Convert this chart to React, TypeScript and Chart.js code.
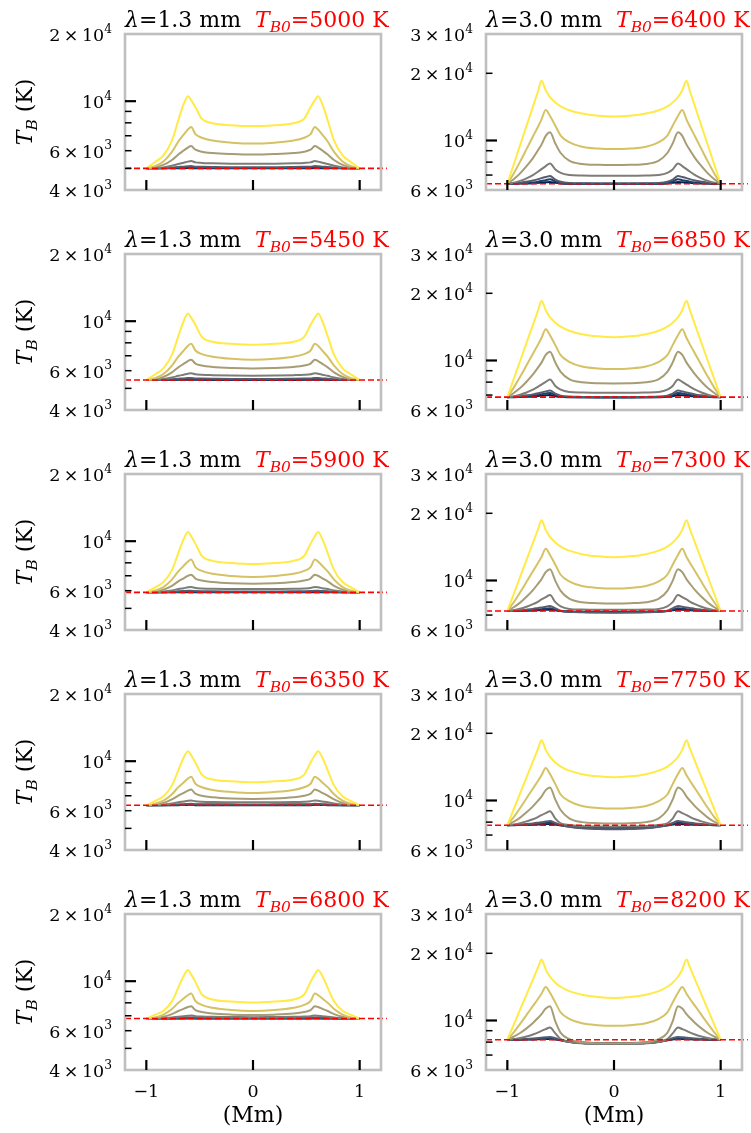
import React, { useEffect, useRef } from "react";
import { Chart, registerables } from "chart.js";

Chart.register(...registerables);

// ---------- data ----------
const xMm13 = [-1, -0.92, -0.84, -0.76, -0.7, -0.65, -0.61, -0.58, -0.54, -0.48, -0.38, -0.2, 0, 0.2, 0.38, 0.48, 0.54, 0.58, 0.61, 0.65, 0.7, 0.76, 0.84, 0.92, 1];
const xMm30 = [-1, -0.94, -0.88, -0.82, -0.76, -0.71, -0.68, -0.64, -0.6, -0.55, -0.5, -0.42, -0.3, -0.15, 0, 0.15, 0.3, 0.42, 0.5, 0.55, 0.6, 0.64, 0.68, 0.71, 0.76, 0.82, 0.88, 0.94, 1];

const tbBase13 = [5000, 5450, 5900, 6350, 6800];
const tbBase30 = [6400, 6850, 7300, 7750, 8200];

const curveColors = ["#ffea46", "#d4c264", "#a69d75", "#7d7c76", "#575c6d", "#1d3e6d", "#00204d"];

const yTicks13 = [4000, 5000, 6000, 7000, 8000, 9000, 10000, 20000];
const yTicks30 = [6000, 7000, 8000, 9000, 10000, 20000, 30000];
const yLabelVals13 = [4000, 6000, 10000, 20000];
const yLabelMant13 = [4, 6, 1, 2];
const yLabelExp13 = [3, 3, 4, 4];
const yLabelVals30 = [6000, 10000, 20000, 30000];
const yLabelMant30 = [6, 1, 2, 3];
const yLabelExp30 = [3, 4, 4, 4];
const xTickVals = [-1, 0, 1];
const xTickText = ["\u22121", "0", "1"];

// lambda = 1.3 mm panels (yellow, tan, olive, gray, slate, blue, navy)
const tb13_5000 = [
  [5000, 5330, 5720, 6660, 8210, 9700, 10530, 10110, 9410, 8350, 7960, 7810, 7740, 7810, 7960, 8350, 9410, 10110, 10530, 9700, 8210, 6660, 5720, 5330, 5000],
  [5000, 5110, 5370, 5930, 6600, 7080, 7470, 7660, 7120, 6860, 6660, 6520, 6460, 6520, 6660, 6860, 7120, 7660, 7470, 7080, 6600, 5930, 5370, 5110, 5000],
  [5000, 5050, 5180, 5450, 5770, 6010, 6200, 6290, 6060, 5940, 5860, 5800, 5770, 5800, 5860, 5940, 6060, 6290, 6200, 6010, 5770, 5450, 5180, 5050, 5000],
  [5000, 5020, 5050, 5140, 5230, 5300, 5360, 5390, 5320, 5290, 5270, 5250, 5240, 5250, 5270, 5290, 5320, 5390, 5360, 5300, 5230, 5140, 5050, 5020, 5000],
  [5000, 5005, 5020, 5040, 5070, 5090, 5110, 5120, 5090, 5080, 5070, 5060, 5060, 5060, 5070, 5080, 5090, 5120, 5110, 5090, 5070, 5040, 5020, 5005, 5000],
  [5000, 5000, 5010, 5020, 5030, 5040, 5045, 5050, 5035, 5030, 5025, 5020, 5020, 5020, 5025, 5030, 5035, 5050, 5045, 5040, 5030, 5020, 5010, 5000, 5000],
  [5000, 5000, 5000, 5005, 5010, 5010, 5015, 5015, 5010, 5010, 5005, 5005, 5005, 5005, 5005, 5010, 5010, 5015, 5015, 5010, 5010, 5005, 5000, 5000, 5000],
];
const tb13_5450 = [
  [5450, 5770, 6150, 7060, 8570, 10020, 10830, 10380, 9640, 8510, 8090, 7920, 7850, 7920, 8090, 8510, 9640, 10380, 10830, 10020, 8570, 7060, 6150, 5770, 5450],
  [5450, 5550, 5800, 6320, 6940, 7380, 7760, 7930, 7390, 7120, 6930, 6780, 6720, 6780, 6930, 7120, 7390, 7930, 7760, 7380, 6940, 6320, 5800, 5550, 5450],
  [5450, 5500, 5630, 5900, 6210, 6440, 6630, 6720, 6460, 6330, 6240, 6170, 6140, 6170, 6240, 6330, 6460, 6720, 6630, 6440, 6210, 5900, 5630, 5500, 5450],
  [5450, 5470, 5510, 5590, 5690, 5760, 5820, 5850, 5780, 5750, 5730, 5710, 5700, 5710, 5730, 5750, 5780, 5850, 5820, 5760, 5690, 5590, 5510, 5470, 5450],
  [5450, 5455, 5470, 5490, 5520, 5540, 5560, 5570, 5540, 5530, 5520, 5510, 5510, 5510, 5520, 5530, 5540, 5570, 5560, 5540, 5520, 5490, 5470, 5455, 5450],
  [5450, 5450, 5460, 5470, 5480, 5490, 5495, 5500, 5485, 5480, 5475, 5470, 5470, 5470, 5475, 5480, 5485, 5500, 5495, 5490, 5480, 5470, 5460, 5450, 5450],
  [5450, 5450, 5450, 5455, 5460, 5460, 5465, 5465, 5460, 5460, 5455, 5455, 5455, 5455, 5455, 5460, 5460, 5465, 5465, 5460, 5460, 5455, 5450, 5450, 5450],
];
const tb13_5900 = [
  [5900, 6200, 6560, 7420, 8850, 10220, 10980, 10520, 9750, 8590, 8160, 7990, 7910, 7990, 8160, 8590, 9750, 10520, 10980, 10220, 8850, 7420, 6560, 6200, 5900],
  [5900, 6000, 6230, 6730, 7320, 7750, 8100, 8270, 7660, 7360, 7140, 6980, 6910, 6980, 7140, 7360, 7660, 8270, 8100, 7750, 7320, 6730, 6230, 6000, 5900],
  [5900, 5950, 6070, 6310, 6610, 6820, 7000, 7080, 6800, 6660, 6560, 6480, 6450, 6480, 6560, 6660, 6800, 7080, 7000, 6820, 6610, 6310, 6070, 5950, 5900],
  [5900, 5910, 5950, 6020, 6100, 6160, 6210, 6230, 6170, 6140, 6120, 6110, 6100, 6110, 6120, 6140, 6170, 6230, 6210, 6160, 6100, 6020, 5950, 5910, 5900],
  [5900, 5905, 5915, 5935, 5960, 5980, 5995, 6000, 5980, 5970, 5960, 5955, 5950, 5955, 5960, 5970, 5980, 6000, 5995, 5980, 5960, 5935, 5915, 5905, 5900],
  [5900, 5900, 5905, 5915, 5925, 5930, 5935, 5940, 5930, 5925, 5920, 5915, 5915, 5915, 5920, 5925, 5930, 5940, 5935, 5930, 5925, 5915, 5905, 5900, 5900],
  [5900, 5900, 5900, 5905, 5905, 5910, 5910, 5910, 5905, 5905, 5905, 5905, 5905, 5905, 5905, 5905, 5905, 5910, 5910, 5910, 5905, 5905, 5900, 5900, 5900],
];
const tb13_6350 = [
  [6350, 6630, 6970, 7770, 9100, 10380, 11090, 10630, 9870, 8710, 8280, 8120, 8040, 8120, 8280, 8710, 9870, 10630, 11090, 10380, 9100, 7770, 6970, 6630, 6350],
  [6350, 6440, 6650, 7110, 7650, 8030, 8360, 8510, 7920, 7640, 7430, 7280, 7210, 7280, 7430, 7640, 7920, 8510, 8360, 8030, 7650, 7110, 6650, 6440, 6350],
  [6350, 6390, 6500, 6740, 7010, 7210, 7380, 7460, 7150, 7000, 6890, 6800, 6770, 6800, 6890, 7000, 7150, 7460, 7380, 7210, 7010, 6740, 6500, 6390, 6350],
  [6350, 6360, 6400, 6460, 6540, 6600, 6650, 6670, 6610, 6580, 6560, 6550, 6540, 6550, 6560, 6580, 6610, 6670, 6650, 6600, 6540, 6460, 6400, 6360, 6350],
  [6350, 6355, 6365, 6380, 6400, 6420, 6435, 6440, 6420, 6415, 6410, 6405, 6400, 6405, 6410, 6415, 6420, 6440, 6435, 6420, 6400, 6380, 6365, 6355, 6350],
  [6350, 6350, 6355, 6365, 6375, 6380, 6385, 6390, 6380, 6375, 6375, 6370, 6370, 6370, 6375, 6375, 6380, 6390, 6385, 6380, 6375, 6365, 6355, 6350, 6350],
  [6350, 6350, 6350, 6355, 6355, 6360, 6360, 6360, 6355, 6355, 6355, 6355, 6355, 6355, 6355, 6355, 6355, 6360, 6360, 6360, 6355, 6355, 6350, 6350, 6350],
];
const tb13_6800 = [
  [6800, 7060, 7370, 8120, 9360, 10550, 11210, 10730, 9930, 8720, 8280, 8100, 8020, 8100, 8280, 8720, 9930, 10730, 11210, 10550, 9360, 8120, 7370, 7060, 6800],
  [6800, 6880, 7080, 7500, 8000, 8360, 8660, 8800, 8150, 7830, 7600, 7420, 7350, 7420, 7600, 7830, 8150, 8800, 8660, 8360, 8000, 7500, 7080, 6880, 6800],
  [6800, 6840, 6930, 7120, 7350, 7520, 7660, 7720, 7420, 7270, 7160, 7080, 7050, 7080, 7160, 7270, 7420, 7720, 7660, 7520, 7350, 7120, 6930, 6840, 6800],
  [6800, 6810, 6830, 6880, 6930, 6970, 7000, 7020, 6970, 6940, 6920, 6910, 6900, 6910, 6920, 6940, 6970, 7020, 7000, 6970, 6930, 6880, 6830, 6810, 6800],
  [6800, 6805, 6810, 6830, 6850, 6865, 6875, 6880, 6860, 6855, 6845, 6840, 6840, 6840, 6845, 6855, 6860, 6880, 6875, 6865, 6850, 6830, 6810, 6805, 6800],
  [6800, 6800, 6805, 6815, 6825, 6830, 6835, 6840, 6830, 6825, 6825, 6820, 6820, 6820, 6825, 6825, 6830, 6840, 6835, 6830, 6825, 6815, 6805, 6800, 6800],
  [6800, 6800, 6800, 6805, 6805, 6810, 6810, 6810, 6805, 6805, 6805, 6805, 6805, 6805, 6805, 6805, 6805, 6810, 6810, 6810, 6805, 6805, 6800, 6800, 6800],
];

// lambda = 3.0 mm panels
const tb30_6400 = [
  [6400, 7810, 9530, 11630, 14190, 16740, 18500, 16790, 15650, 14800, 14230, 13660, 13200, 12910, 12800, 12910, 13200, 13660, 14230, 14800, 15650, 16790, 18500, 16740, 14190, 11630, 9530, 7810, 6400],
  [6400, 7120, 8040, 9150, 10420, 11590, 12410, 13700, 12880, 11650, 10520, 9830, 9380, 9200, 9150, 9200, 9380, 9830, 10520, 11650, 12880, 13700, 12410, 11590, 10420, 9150, 8040, 7120, 6400],
  [6400, 6710, 7120, 7670, 8340, 9080, 9580, 10480, 10880, 9690, 8790, 8130, 7850, 7780, 7760, 7780, 7850, 8130, 8790, 9690, 10880, 10480, 9580, 9080, 8340, 7670, 7120, 6710, 6400],
  [6400, 6470, 6590, 6770, 7000, 7260, 7440, 7680, 7890, 7420, 7160, 7010, 6970, 6950, 6950, 6950, 6970, 7010, 7160, 7420, 7890, 7680, 7440, 7260, 7000, 6770, 6590, 6470, 6400],
  [6400, 6430, 6470, 6540, 6620, 6710, 6780, 6860, 6930, 6680, 6530, 6450, 6430, 6420, 6420, 6420, 6430, 6450, 6530, 6680, 6930, 6860, 6780, 6710, 6620, 6540, 6470, 6430, 6400],
  [6400, 6410, 6425, 6450, 6490, 6540, 6580, 6640, 6700, 6550, 6470, 6420, 6405, 6400, 6400, 6400, 6405, 6420, 6470, 6550, 6700, 6640, 6580, 6540, 6490, 6450, 6425, 6410, 6400],
  [6400, 6400, 6410, 6420, 6435, 6460, 6475, 6500, 6520, 6460, 6420, 6400, 6395, 6395, 6395, 6395, 6395, 6400, 6420, 6460, 6520, 6500, 6475, 6460, 6435, 6420, 6410, 6400, 6400],
];
const tb30_6850 = [
  [6850, 8260, 9950, 12000, 14450, 16890, 18540, 16790, 15630, 14750, 14170, 13590, 13120, 12830, 12710, 12830, 13120, 13590, 14170, 14750, 15630, 16790, 18540, 16890, 14450, 12000, 9950, 8260, 6850],
  [6850, 7560, 8450, 9520, 10730, 11840, 12610, 13810, 12970, 11720, 10560, 9860, 9390, 9210, 9160, 9210, 9390, 9860, 10560, 11720, 12970, 13810, 12610, 11840, 10730, 9520, 8450, 7560, 6850],
  [6850, 7150, 7520, 8030, 8660, 9330, 9780, 10590, 10950, 9790, 8900, 8260, 7980, 7900, 7890, 7900, 7980, 8260, 8900, 9790, 10950, 10590, 9780, 9330, 8660, 8030, 7520, 7150, 6850],
  [6850, 6910, 7030, 7190, 7400, 7640, 7800, 8020, 8210, 7690, 7400, 7230, 7190, 7170, 7170, 7170, 7190, 7230, 7400, 7690, 8210, 8020, 7800, 7640, 7400, 7190, 7030, 6910, 6850],
  [6850, 6870, 6920, 6980, 7050, 7130, 7190, 7270, 7330, 7100, 6960, 6890, 6870, 6860, 6860, 6860, 6870, 6890, 6960, 7100, 7330, 7270, 7190, 7130, 7050, 6980, 6920, 6870, 6850],
  [6850, 6860, 6880, 6910, 6960, 7020, 7060, 7110, 7150, 7000, 6900, 6860, 6845, 6840, 6840, 6840, 6845, 6860, 6900, 7000, 7150, 7110, 7060, 7020, 6960, 6910, 6880, 6860, 6850],
  [6850, 6850, 6860, 6875, 6900, 6930, 6955, 6980, 7000, 6920, 6870, 6845, 6835, 6830, 6830, 6830, 6835, 6845, 6870, 6920, 7000, 6980, 6955, 6930, 6900, 6875, 6860, 6850, 6850],
];
const tb30_7300 = [
  [7300, 8700, 10370, 12360, 14740, 17060, 18630, 16850, 15670, 14780, 14190, 13600, 13120, 12830, 12710, 12830, 13120, 13600, 14190, 14780, 15670, 16850, 18630, 17060, 14740, 12360, 10370, 8700, 7300],
  [7300, 7990, 8850, 9860, 11010, 12040, 12750, 13860, 13020, 11770, 10610, 9910, 9440, 9260, 9210, 9260, 9440, 9910, 10610, 11770, 13020, 13860, 12750, 12040, 11010, 9860, 8850, 7990, 7300],
  [7300, 7590, 7960, 8450, 9050, 9700, 10130, 10900, 11230, 9960, 8990, 8290, 7990, 7910, 7890, 7910, 7990, 8290, 8990, 9960, 11230, 10900, 10130, 9700, 9050, 8450, 7960, 7590, 7300],
  [7300, 7360, 7470, 7630, 7830, 8050, 8220, 8420, 8600, 8000, 7660, 7460, 7410, 7390, 7390, 7390, 7410, 7460, 7660, 8000, 8600, 8420, 8220, 8050, 7830, 7630, 7470, 7360, 7300],
  [7300, 7320, 7350, 7400, 7460, 7530, 7570, 7630, 7680, 7500, 7320, 7240, 7200, 7180, 7170, 7180, 7200, 7240, 7320, 7500, 7680, 7630, 7570, 7530, 7460, 7400, 7350, 7320, 7300],
  [7300, 7310, 7320, 7340, 7370, 7400, 7430, 7470, 7500, 7400, 7300, 7250, 7220, 7205, 7200, 7205, 7220, 7250, 7300, 7400, 7500, 7470, 7430, 7400, 7370, 7340, 7320, 7310, 7300],
  [7300, 7300, 7310, 7320, 7335, 7350, 7365, 7385, 7400, 7350, 7290, 7260, 7240, 7235, 7230, 7235, 7240, 7260, 7290, 7350, 7400, 7385, 7365, 7350, 7335, 7320, 7310, 7300, 7300],
];
const tb30_7750 = [
  [7750, 9140, 10770, 12690, 14960, 17160, 18630, 16850, 15670, 14780, 14190, 13600, 13120, 12830, 12710, 12830, 13120, 13600, 14190, 14780, 15670, 16850, 18630, 17160, 14960, 12690, 10770, 9140, 7750],
  [7750, 8420, 9250, 10230, 11310, 12290, 12960, 13990, 13130, 11840, 10640, 9930, 9450, 9260, 9210, 9260, 9450, 9930, 10640, 11840, 13130, 13990, 12960, 12290, 11310, 10230, 9250, 8420, 7750],
  [7750, 8030, 8380, 8850, 9410, 10010, 10410, 11130, 11430, 10090, 9060, 8320, 8000, 7910, 7890, 7910, 8000, 8320, 9060, 10090, 11430, 11130, 10410, 10010, 9410, 8850, 8380, 8030, 7750],
  [7750, 7810, 7910, 8060, 8240, 8450, 8600, 8780, 8950, 8290, 7900, 7760, 7680, 7640, 7630, 7640, 7680, 7760, 7900, 8290, 8950, 8780, 8600, 8450, 8240, 8060, 7910, 7810, 7750],
  [7750, 7770, 7800, 7840, 7890, 7950, 7990, 8050, 8090, 7930, 7770, 7620, 7500, 7455, 7440, 7455, 7500, 7620, 7770, 7930, 8090, 8050, 7990, 7950, 7890, 7840, 7800, 7770, 7750],
  [7750, 7760, 7770, 7790, 7820, 7850, 7880, 7920, 7950, 7850, 7750, 7640, 7540, 7495, 7480, 7495, 7540, 7640, 7750, 7850, 7950, 7920, 7880, 7850, 7820, 7790, 7770, 7760, 7750],
  [7750, 7750, 7760, 7770, 7785, 7800, 7815, 7835, 7850, 7800, 7740, 7670, 7590, 7560, 7550, 7560, 7590, 7670, 7740, 7800, 7850, 7835, 7815, 7800, 7785, 7770, 7760, 7750, 7750],
];
const tb30_8200 = [
  [8200, 9580, 11190, 13070, 15260, 17370, 18770, 16930, 15700, 14770, 14160, 13540, 13050, 12740, 12620, 12740, 13050, 13540, 14160, 14770, 15700, 16930, 18770, 17370, 15260, 13070, 11190, 9580, 8200],
  [8200, 8850, 9660, 10590, 11620, 12540, 13170, 14140, 13300, 12040, 10880, 10180, 9710, 9530, 9480, 9530, 9710, 10180, 10880, 12040, 13300, 14140, 13170, 12540, 11620, 10590, 9660, 8850, 8200],
  [8200, 8460, 8790, 9220, 9750, 10300, 10670, 11310, 11590, 9900, 8800, 8250, 7980, 7910, 7900, 7910, 7980, 8250, 8800, 9900, 11590, 11310, 10670, 10300, 9750, 9220, 8790, 8460, 8200],
  [8200, 8250, 8350, 8480, 8660, 8840, 8980, 9150, 9300, 8750, 8250, 8020, 7920, 7880, 7870, 7880, 7920, 8020, 8250, 8750, 9300, 9150, 8980, 8840, 8660, 8480, 8350, 8250, 8200],
  [8200, 8210, 8230, 8260, 8300, 8340, 8370, 8410, 8440, 8320, 8170, 8000, 7900, 7860, 7850, 7860, 7900, 8000, 8170, 8320, 8440, 8410, 8370, 8340, 8300, 8260, 8230, 8210, 8200],
  [8200, 8205, 8215, 8230, 8250, 8270, 8290, 8310, 8330, 8260, 8170, 8030, 7930, 7890, 7880, 7890, 7930, 8030, 8170, 8260, 8330, 8310, 8290, 8270, 8250, 8230, 8215, 8205, 8200],
  [8200, 8200, 8205, 8215, 8225, 8235, 8245, 8255, 8260, 8220, 8160, 8050, 7960, 7930, 7920, 7930, 7960, 8050, 8160, 8220, 8260, 8255, 8245, 8235, 8225, 8215, 8205, 8200, 8200],
];

const panels13 = [tb13_5000, tb13_5450, tb13_5900, tb13_6350, tb13_6800];
const panels30 = [tb30_6400, tb30_6850, tb30_7300, tb30_7750, tb30_8200];

// ---------- styling ----------
const SERIF = "'DejaVu Serif', serif";
const RED = "#ff0000";
const FRAME = "#bfbfbf";

type Part = { t: string; it?: boolean; color?: string; scale?: number; dy?: number };

function fontOf(p: Part, size: number) {
  return `${p.it ? "italic " : ""}${(size * (p.scale ?? 1)).toFixed(2)}px ${SERIF}`;
}
function richWidth(ctx: CanvasRenderingContext2D, parts: Part[], size: number) {
  let w = 0;
  for (const p of parts) {
    ctx.font = fontOf(p, size);
    w += ctx.measureText(p.t).width;
  }
  return w;
}
function drawRich(ctx: CanvasRenderingContext2D, parts: Part[], x: number, y: number, size: number, align: "left" | "center" | "right") {
  const w = richWidth(ctx, parts, size);
  let cx = align === "left" ? x : align === "center" ? x - w / 2 : x - w;
  ctx.textAlign = "left";
  ctx.textBaseline = "alphabetic";
  for (const p of parts) {
    ctx.font = fontOf(p, size);
    ctx.fillStyle = p.color ?? "#000";
    ctx.fillText(p.t, cx, y + (p.dy ?? 0) * size);
    cx += ctx.measureText(p.t).width;
  }
}
function powLabel(m: number, e: number): Part[] {
  const sup: Part = { t: String(e), scale: 0.7, dy: -0.47 };
  if (m === 1) return [{ t: "10" }, sup];
  return [{ t: String(m) }, { t: "\u2009\u00d7\u2009" }, { t: "10" }, sup];
}

function Panel({ col, row }: { col: number; row: number }) {
  const ref = useRef<HTMLCanvasElement>(null);
  const isLeft = col === 0;
  const W = isLeft ? 395 : 366;
  const H = row === 4 ? 253 : 220;
  const leftPos = isLeft ? 0 : 385;

  useEffect(() => {
    const canvas = ref.current!;
    const curves = isLeft ? panels13[row] : panels30[row];
    const xs = isLeft ? xMm13 : xMm30;
    const base = isLeft ? tbBase13[row] : tbBase30[row];
    const yTicks = isLeft ? yTicks13 : yTicks30;
    const lv = isLeft ? yLabelVals13 : yLabelVals30;
    const lm = isLeft ? yLabelMant13 : yLabelMant30;
    const le = isLeft ? yLabelExp13 : yLabelExp30;
    const lam = isLeft ? "1.3" : "3.0";

    const datasets: any[] = curves.map((vals, i) => ({
      data: xs.map((x, j) => ({ x, y: vals[j] })),
      borderColor: curveColors[i],
      borderWidth: 2,
      pointRadius: 0,
      cubicInterpolationMode: "monotone",
      order: i + 1,
    }));
    datasets.push({
      data: [{ x: -1.2, y: base }, { x: 1.255, y: base }],
      borderColor: RED,
      borderWidth: 1.6,
      borderDash: [6, 3],
      pointRadius: 0,
      order: 0,
      clip: false,
    });

    const deco = {
      id: "deco",
      afterDatasetsDraw(chart: any) {
        const { ctx, chartArea: a } = chart;
        ctx.save();
        ctx.strokeStyle = FRAME;
        ctx.lineWidth = 2.6;
        ctx.strokeRect(a.left, a.top, a.right - a.left, a.bottom - a.top);
        ctx.restore();
      },
      afterDraw(chart: any) {
        const { ctx, chartArea: a, scales } = chart;
        const sx = scales.x;
        const sy = scales.y;
        ctx.save();
        ctx.strokeStyle = "#000";
        for (const v of yTicks) {
          const py = sy.getPixelForValue(v);
          if (py < a.top + 2 || py > a.bottom - 2) continue;
          const major = v === 10000;
          ctx.lineWidth = major ? 2.2 : 1.5;
          ctx.beginPath();
          ctx.moveTo(a.left, py);
          ctx.lineTo(a.left + (major ? 11 : 6.5), py);
          ctx.stroke();
        }
        for (const v of xTickVals) {
          const px = sx.getPixelForValue(v);
          ctx.lineWidth = 2.2;
          ctx.beginPath();
          ctx.moveTo(px, a.bottom);
          ctx.lineTo(px, a.bottom - 10);
          ctx.stroke();
        }
        // y tick labels
        lv.forEach((v, i) => {
          const py = sy.getPixelForValue(v);
          drawRich(ctx, powLabel(lm[i], le[i]), a.left - 13, py + 7, 17.5, "right");
        });
        // title
        drawRich(
          ctx,
          [
            { t: "\u03bb", it: true },
            { t: `=${lam} mm  ` },
            { t: "T", it: true, color: RED },
            { t: "B0", it: true, color: RED, scale: 0.7, dy: 0.24 },
            { t: `=${base} K`, color: RED },
          ],
          a.left,
          a.top - 7.5,
          22,
          "left"
        );
        // y axis label
        if (isLeft) {
          ctx.save();
          ctx.translate(24, (a.top + a.bottom) / 2);
          ctx.rotate(-Math.PI / 2);
          drawRich(ctx, [{ t: "T", it: true }, { t: "B", it: true, scale: 0.7, dy: 0.24 }, { t: " (K)" }], 0, 7.5, 22, "center");
          ctx.restore();
        }
        // x tick labels and x axis label (bottom row)
        if (row === 4) {
          xTickVals.forEach((v, i) => {
            const px = sx.getPixelForValue(v);
            drawRich(ctx, [{ t: xTickText[i] }], px, a.bottom + 27, 17.5, "center");
          });
          drawRich(ctx, [{ t: "(Mm)" }], (a.left + a.right) / 2, a.bottom + 52, 22, "center");
        }
        ctx.restore();
      },
    };

    const chart = new Chart(canvas, {
      type: "line",
      data: { datasets },
      options: {
        animation: false,
        responsive: false,
        devicePixelRatio: 1,
        layout: {
          padding: {
            left: isLeft ? 125 : 101,
            right: isLeft ? 14 : 9,
            top: 34,
            bottom: H - 190,
          },
        },
        plugins: { legend: { display: false }, tooltip: { enabled: false } },
        scales: {
          x: { type: "linear", min: -1.2, max: 1.2, display: false },
          y: { type: "logarithmic", min: isLeft ? 4000 : 6000, max: isLeft ? 20000 : 30000, display: false },
        },
      } as any,
      plugins: [deco],
    });
    return () => chart.destroy();
  }, []);

  return (
    <canvas
      ref={ref}
      width={W}
      height={H}
      style={{ position: "absolute", left: leftPos, top: row * 220, width: W, height: H }}
    />
  );
}

export default function App() {
  const rows = [0, 1, 2, 3, 4];
  return (
    <div style={{ position: "absolute", left: 0, top: 0, width: 751, height: 1133, background: "#fff" }}>
      {rows.map((r) => (
        <React.Fragment key={r}>
          <Panel col={0} row={r} />
          <Panel col={1} row={r} />
        </React.Fragment>
      ))}
    </div>
  );
}
